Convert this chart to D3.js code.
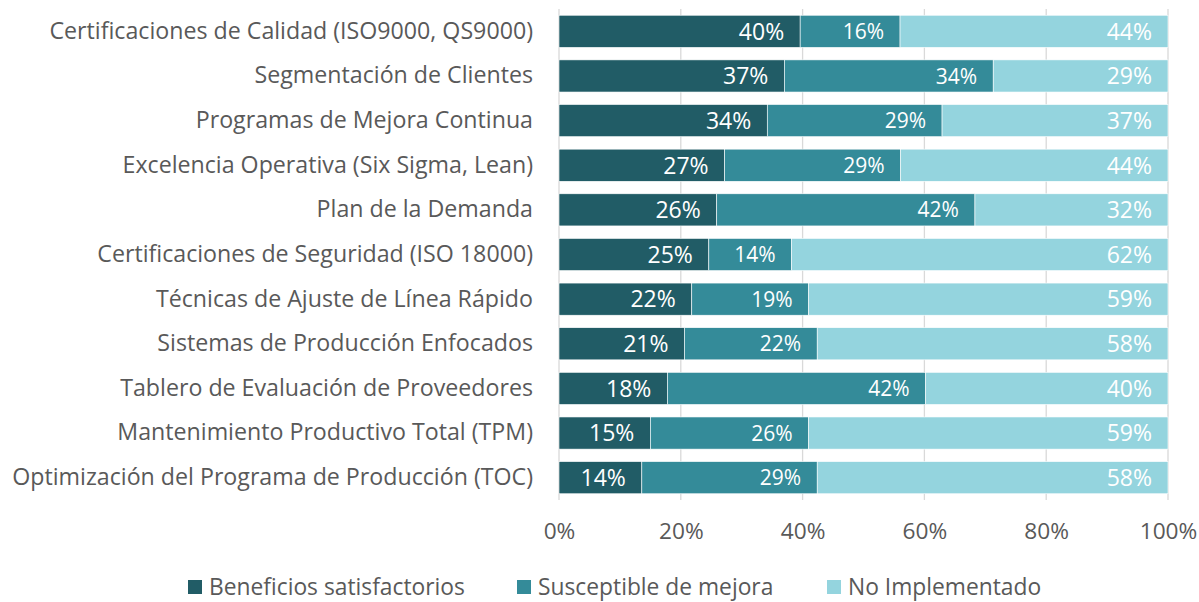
<!DOCTYPE html>
<html><head><meta charset="utf-8">
<script src="https://cdn.jsdelivr.net/npm/d3@7"></script>
<style>body{margin:0;background:#fff}svg{display:block}</style>
</head><body><svg id="c" width="1199" height="602"></svg>
<script>
const categories = [
  "Certificaciones de Calidad (ISO9000, QS9000)",
  "Segmentación de Clientes",
  "Programas de Mejora Continua",
  "Excelencia Operativa (Six Sigma, Lean)",
  "Plan de la Demanda",
  "Certificaciones de Seguridad (ISO 18000)",
  "Técnicas de Ajuste de Línea Rápido",
  "Sistemas de Producción Enfocados",
  "Tablero de Evaluación de Proveedores",
  "Mantenimiento Productivo Total (TPM)",
  "Optimización del Programa de Producción (TOC)"
];
const beneficios = [39.6, 37.0, 34.2, 27.2, 25.9, 24.6, 21.8, 20.6, 17.8, 15.0, 13.6];
const susceptible = [16.4, 34.3, 28.7, 28.9, 42.4, 13.6, 19.2, 21.8, 42.4, 26.0, 28.8];
const noImplementado = [44.0, 28.7, 37.1, 43.9, 31.7, 61.8, 59.0, 57.6, 39.8, 59.0, 57.6];
const seriesNames = ["Beneficios satisfactorios", "Susceptible de mejora", "No Implementado"];
const tickValues = [0, 20, 40, 60, 80, 100];

const colors = ["#215c66", "#348b99", "#94d4de"];
const labelSizes = [23, 21, 23];
const font = "'Open Sans', 'Noto Sans', sans-serif";

const svg = d3.select("#c");
const margin = {left: 559, right: 31, top: 9, bottom: 102};
const W = 1199, H = 602;

const x = d3.scaleLinear().domain([0, 100]).range([margin.left, W - margin.right]);
const y = d3.scaleBand().domain(categories).range([margin.top, H - margin.bottom]).paddingInner(0.28).paddingOuter(0.14);

const rows = categories.map((c, i) => ({cat: c, b: beneficios[i], s: susceptible[i], n: noImplementado[i]}));
const stack = d3.stack().keys(["b", "s", "n"]);
const stacked = stack(rows);

// gridlines
svg.append("g").selectAll("line").data(tickValues).join("line")
  .attr("x1", d => x(d)).attr("x2", d => x(d))
  .attr("y1", margin.top).attr("y2", H - margin.bottom)
  .attr("stroke", "#d9d9d9").attr("stroke-width", 1.3);

// bars
const layers = svg.append("g").selectAll("g").data(stacked).join("g")
  .attr("fill", (d, i) => colors[i]);
layers.selectAll("rect").data(d => d).join("rect")
  .attr("x", d => x(d[0]))
  .attr("y", d => y(d.data.cat))
  .attr("width", d => x(d[1]) - x(d[0]))
  .attr("height", y.bandwidth())
  .attr("stroke", "#ffffff").attr("stroke-width", 0.6);

// labels (inside end)
stacked.forEach((layer, li) => {
  svg.append("g").selectAll("text").data(layer).join("text")
    .attr("x", d => x(d[1]) - 16)
    .attr("y", d => y(d.data.cat) + y.bandwidth() / 2)
    .attr("dy", "0.36em")
    .attr("text-anchor", "end")
    .attr("fill", "#ffffff")
    .attr("font-family", font)
    .attr("font-size", labelSizes[li])
    .text(d => Math.round(d[1] - d[0]) + "%");
});

// category axis
const yAxis = svg.append("g").attr("transform", `translate(${margin.left},0)`)
  .call(d3.axisLeft(y).tickSize(0).tickPadding(26));
yAxis.select(".domain").remove();
yAxis.selectAll("text").attr("font-family", font).attr("font-size", 23.2).attr("fill", "#595959");

// x axis
const xAxis = svg.append("g").attr("transform", `translate(0,${H - margin.bottom})`)
  .call(d3.axisBottom(x).tickValues(tickValues).tickSize(0).tickPadding(23).tickFormat(d => d + "%"));
xAxis.select(".domain").remove();
xAxis.selectAll("text").attr("font-family", font).attr("font-size", 22.7).attr("fill", "#595959");

// legend
const legendX = [188, 517, 827];
const lg = svg.append("g").selectAll("g").data(seriesNames).join("g")
  .attr("transform", (d, i) => `translate(${legendX[i]},587)`);
lg.append("rect").attr("x", 0).attr("y", -7).attr("width", 14).attr("height", 14)
  .attr("fill", (d, i) => colors[i]);
lg.append("text").attr("x", 21).attr("dy", "0.36em")
  .attr("font-family", font).attr("font-size", 22.8).attr("fill", "#595959")
  .text(d => d);
</script></body></html>
